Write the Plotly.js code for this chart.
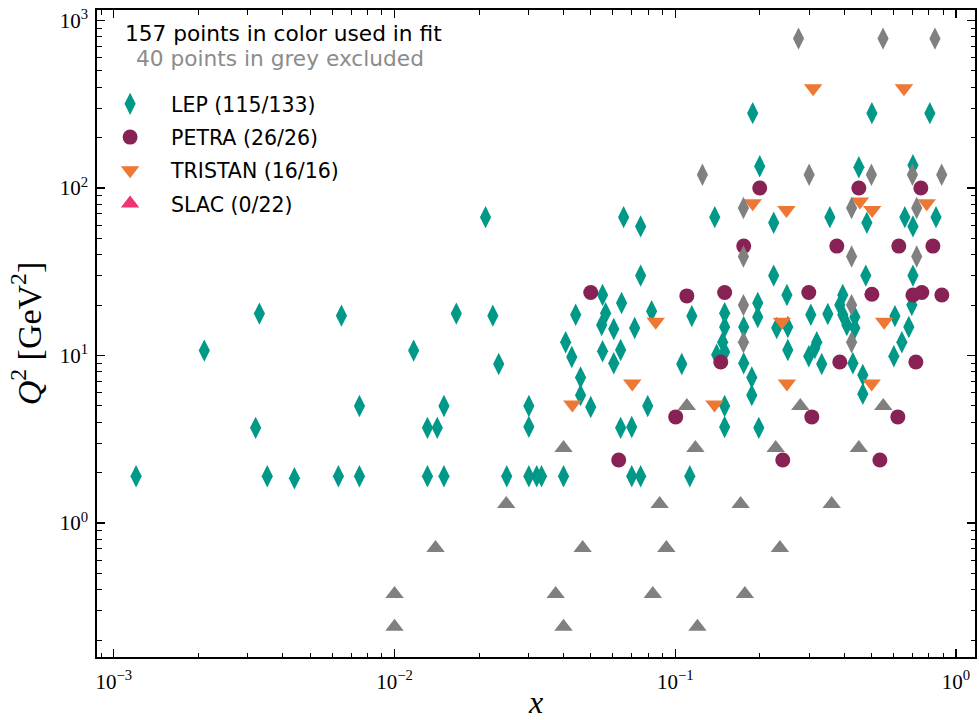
<!DOCTYPE html>
<html>
<head>
<meta charset="utf-8">
<script src="https://cdn.plot.ly/plotly-3.0.1.min.js"></script>
<style>html,body{margin:0;padding:0;background:#fff;}#chart{width:979px;height:720px;}</style>
</head>
<body>
<div id="chart"></div>
<script>
// ---- data (x, Q^2 in GeV^2) ----
const lepX = [0.00120,0.00210,0.00320,0.00330,0.00352,0.00440,0.00631,0.00647,0.0075,0.0075,
  0.0117,0.0131,0.0142,0.0131,0.0150,0.0150,0.0166,0.0224,0.0235,0.0251,
  0.0301,0.0301,0.0301,0.0321,0.0211,
  0.0334,0.0400,0.0700,0.0753,0.1127,0.1888,0.200,0.0655,0.0753,0.1383,
  0.0753,0.0551,0.0644,0.0442,0.0565,0.0824,0.1146,0.0547,0.0604,0.0717,
  0.0407,0.0428,0.0551,0.0639,0.0604,0.1055,0.0460,0.0460,0.0500,0.0798,
  0.0639,0.0700,0.150,0.150,0.1985,0.150,0.150,0.1476,0.150,0.1405,
  0.1754,0.1754,0.1874,0.1874,0.1968,0.1968,
  0.2243,0.3556,0.4816,0.6577,0.703,0.8494,0.451,0.703,0.502,0.8075,
  0.2243,0.4775,0.703,0.250,0.3041,0.3497,0.3953,0.3857,0.3953,0.4087,
  0.4365,0.4365,0.2299,0.2518,0.6064,0.6796,0.6966,0.6418,0.601,0.3194,
  0.3143,0.2991,0.3326,0.2518,0.4295,0.4659,0.4659];
const lepQ2 = [1.9,10.7,3.7,17.8,1.9,1.85,1.9,17.3,5.0,1.9,
  10.7,3.7,3.7,1.9,5.0,1.9,17.8,17.3,8.9,1.9,
  5.0,3.75,1.9,1.9,67,
  1.9,1.9,1.9,1.9,1.9,280,135,67,59,67,
  30,23,20.6,17.5,17.9,18.4,17.2,15.2,14.4,14.6,
  12.0,9.8,10.6,10.8,9.0,8.9,7.4,5.8,4.93,5.0,
  3.7,3.74,5.0,3.74,3.7,17.9,14.8,12.0,10.5,10.1,
  14.8,9.0,7.4,5.8,20.6,17.0,
  62,67,62,67,59,67,133,137,280,280,
  30,30,30,23,17.5,17.7,23,20,17.5,15.2,
  17.0,14.6,14.6,14.8,17.2,14.8,20,12.0,9.9,12.0,
  11.1,9.9,8.9,10.8,9.0,7.65,5.9];

const lepExclX = [0.125,0.175,0.275,0.55,0.842,0.30,0.50,0.70,0.89,0.425,0.725,0.175,0.175,0.175,0.425,0.725,0.425,0.425];
const lepExclQ2 = [120,76,780,780,780,120,120,120,120,76,76,39,20,12,39,39,20,12];

const petraX = [0.200,0.451,0.750, 0.1754,0.3764,0.626,0.828,
  0.0500,0.110,0.150,0.2991,0.502,0.703,0.756,0.891,
  0.1453,0.3857,0.720, 0.1004,0.3066,0.621, 0.0629,0.2416,0.536];
const petraQ2 = [100,100,100, 45,45,45,45,
  23.8,22.7,23.8,23.8,23.2,23.0,23.8,23.0,
  9.15,9.15,9.15, 4.3,4.3,4.3, 2.38,2.38,2.38];

const tristanX = [0.1888,0.31,0.653,0.249,0.455,0.503,0.787,0.0852,0.0703,0.043,0.138,0.240,0.555,0.250,0.501];
const tristanQ2 = [81,394,394,74,83,74,81,15.9,6.8,5.1,5.1,15.9,15.9,6.8,6.8];

const slacX = [0.010,0.010,0.014,0.025,0.0375,0.040,0.040,0.0468,0.0832,0.088,0.093,0.110,0.118,0.12,0.171,0.177,0.228,0.236,0.279,0.361,0.451,0.551];
const slacQ2 = [0.377,0.24,0.71,1.3,0.377,0.24,2.8,0.71,0.377,1.3,0.71,5.0,2.8,0.24,1.3,0.377,2.8,0.71,5.0,1.3,2.8,5.0];

const legendNames = ['LEP (115/133)','PETRA (26/26)','TRISTAN (16/16)','SLAC (0/22)'];
const headerLines = ['157 points in color used in fit','40 points in grey excluded'];
const xTickVals = [0.001,0.01,0.1,1];
const xTickText = ['10<sup>\u22123</sup>','10<sup>\u22122</sup>','10<sup>\u22121</sup>','10<sup>0</sup>'];
const yTickVals = [1,10,100,1000];
const yTickText = ['10<sup>0</sup>','10<sup>1</sup>','10<sup>2</sup>','10<sup>3</sup>'];

// ---- styles ----
const TEAL='#009988', WINE='#882255', ORANGE='#EE7733', PINK='#EE3377', GREY='#808080';
const SANS = 'DejaVu Sans, sans-serif';
const SERIF = 'Liberation Serif, DejaVu Serif, serif';

function minorVals(lo, hi){
  const v=[];
  for(let e=lo;e<=hi;e++){for(let m=2;m<=9;m++){v.push(m*Math.pow(10,e));}}
  return v;
}

const traces = [
  {x:lepX, y:lepQ2, type:'scatter', mode:'markers', name:legendNames[0], legendgroup:'g1',
   marker:{symbol:'diamond-tall', size:16, color:TEAL, line:{width:0}}},
  {x:petraX, y:petraQ2, type:'scatter', mode:'markers', name:legendNames[1], legendgroup:'g2',
   marker:{symbol:'circle', size:15, color:WINE, line:{width:0}}},
  {x:tristanX, y:tristanQ2, type:'scatter', mode:'markers', name:legendNames[2], legendgroup:'g3',
   marker:{symbol:'triangle-down', size:16, color:ORANGE, line:{width:0}}},
  {x:lepExclX, y:lepExclQ2, type:'scatter', mode:'markers', showlegend:false, legendgroup:'g1',
   marker:{symbol:'diamond-tall', size:16, color:GREY, line:{width:0}}},
  {x:slacX, y:slacQ2, type:'scatter', mode:'markers', showlegend:false, legendgroup:'g4',
   marker:{symbol:'triangle-up', size:16, color:GREY, line:{width:0}}},
  {x:[null], y:[null], type:'scatter', mode:'markers', name:legendNames[3], legendgroup:'g4',
   marker:{symbol:'triangle-up', size:16, color:PINK, line:{width:0}}}
];

const axisCommon = {
  type:'log', showgrid:false, zeroline:false, showline:true, linecolor:'black', linewidth:1.6,
  mirror:'ticks', ticks:'inside', ticklen:8, tickwidth:1.3, tickcolor:'black',
  tickmode:'array', tickfont:{family:SERIF, size:21, color:'black'}
};

const layout = {
  width:979, height:720,
  margin:{l:97, r:4, t:10, b:63},
  paper_bgcolor:'white', plot_bgcolor:'white',
  showlegend:true,
  legend:{x:-0.009, xanchor:'left', y:0.8856, yanchor:'top', bgcolor:'rgba(0,0,0,0)',
    font:{family:SANS, size:20.5, color:'black'}, itemwidth:72, traceorder:'grouped', tracegroupgap:3.6},
  xaxis:Object.assign({}, axisCommon, {
    range:[-3.06, 0.068], tickvals:xTickVals, ticktext:xTickText, ticklabelstandoff:5,
    minor:{tickmode:'array', tickvals:minorVals(-4,0), ticks:'inside', ticklen:4.5, tickwidth:1, tickcolor:'black', showgrid:false},
    title:{text:'<i>x</i>', font:{family:SERIF, size:32, color:'black'}, standoff:14}
  }),
  yaxis:Object.assign({}, axisCommon, {
    range:[-0.80, 3.063], tickvals:yTickVals, ticktext:yTickText, ticklabelstandoff:3,
    minor:{tickmode:'array', tickvals:minorVals(-1,3), ticks:'inside', ticklen:4.5, tickwidth:1, tickcolor:'black', showgrid:false},
    title:{text:'<i>Q</i><sup>2</sup> [GeV<sup>2</sup>]', font:{family:SERIF, size:34, color:'black'}, standoff:8}
  }),
  annotations:[
    {xref:'paper', yref:'paper', x:(123-97)/878, y:(657-33)/647, xanchor:'left', yanchor:'middle', showarrow:false,
     text:headerLines[0], font:{family:SANS, size:21.7, color:'black'}},
    {xref:'paper', yref:'paper', x:(134-97)/878, y:(657-59)/647, xanchor:'left', yanchor:'middle', showarrow:false,
     text:headerLines[1], font:{family:SANS, size:21.7, color:'#8c8c8c'}}
  ]
};

Plotly.newPlot('chart', traces, layout, {staticPlot:true, displayModeBar:false});
</script>
</body>
</html>
